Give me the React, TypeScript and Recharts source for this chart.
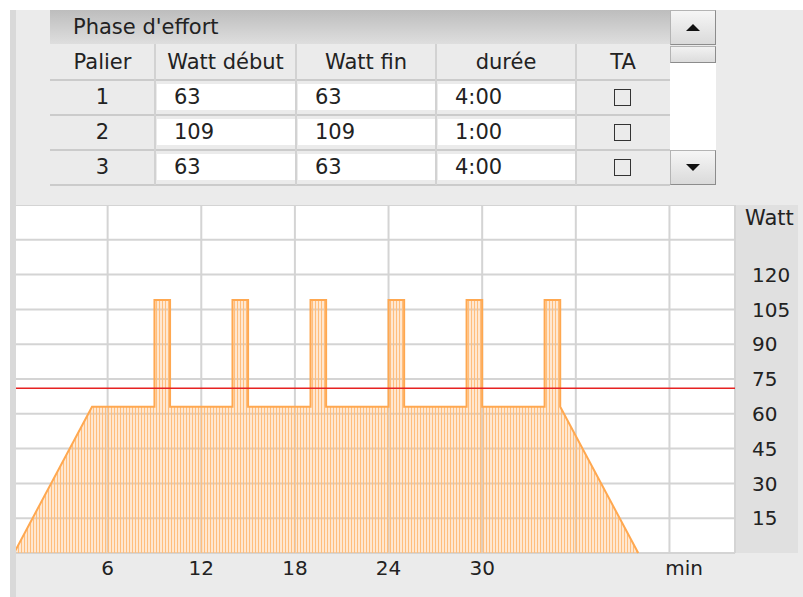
import React from "react";
import { Area, CartesianGrid, ComposedChart, Line, XAxis, YAxis } from "recharts";

const FONT = '"DejaVu Sans", Verdana, sans-serif';

// profil de l'effort (minutes / watts)
const times = [0, 5, 9, 9, 10, 10, 14, 14, 15, 15, 19, 19, 20, 20, 24, 24, 25, 25, 29, 29, 30, 30, 34, 34, 35, 35, 40];
const watts = [0, 63, 63, 109, 109, 63, 63, 109, 109, 63, 63, 109, 109, 63, 63, 109, 109, 63, 63, 109, 109, 63, 63, 109, 109, 63, 0];

const targetWatt = 71;
const xTicks = [6, 12, 18, 24, 30, 36, 42];
const xLabels = [6, 12, 18, 24, 30];
const yTicks = [15, 30, 45, 60, 75, 90, 105, 120, 135];
const yLabels = [15, 30, 45, 60, 75, 90, 105, 120];

// tableau des paliers
const columns = ["Palier", "Watt début", "Watt fin", "durée", "TA"];
const paliers = [1, 2, 3];
const wattStart = [63, 109, 63];
const wattEnd = [63, 109, 63];
const durations = ["4:00", "1:00", "4:00"];

const profile = times.map((t, i) => ({ t, w: watts[i] }));
const redLine = [
  { t: 0, w: targetWatt },
  { t: 46.2, w: targetWatt }
];

const colEdges = [50, 155, 296, 436, 576, 670];

function Cell({ x, w, top, children }: { x: number; w: number; top: number; children: React.ReactNode }) {
  return (
    <div
      style={{
        position: "absolute",
        left: x + 2,
        top: top + 4,
        width: w - 3,
        height: 26,
        background: "#fff",
        lineHeight: "26px",
        paddingLeft: 17,
        boxSizing: "border-box"
      }}
    >
      {children}
    </div>
  );
}

function ScrollButton({ top, up }: { top: number; up: boolean }) {
  return (
    <div
      style={{
        position: "absolute",
        left: 670,
        top,
        width: 46,
        height: 35,
        boxSizing: "border-box",
        background: "linear-gradient(#f6f6f6, #dadada)",
        border: "1px solid #b4b4b4",
        borderRightColor: "#8c8c8c",
        borderBottomColor: "#8c8c8c"
      }}
    >
      <div
        style={{
          position: "absolute",
          left: 15,
          top: 13,
          width: 0,
          height: 0,
          borderLeft: "7px solid transparent",
          borderRight: "7px solid transparent",
          ...(up ? { borderBottom: "7px solid #111" } : { borderTop: "7px solid #111" })
        }}
      />
    </div>
  );
}

function EffortTable() {
  return (
    <>
      <div
        style={{
          position: "absolute",
          left: 50,
          top: 10,
          width: 620,
          height: 34,
          background: "linear-gradient(#bdbdbd, #dedede)",
          lineHeight: "34px",
          paddingLeft: 23,
          boxSizing: "border-box"
        }}
      >
        Phase d'effort
      </div>
      {columns.map((c, i) => (
        <div
          key={c}
          style={{
            position: "absolute",
            left: colEdges[i],
            top: 44,
            width: colEdges[i + 1] - colEdges[i],
            height: 36,
            lineHeight: "36px",
            textAlign: "center"
          }}
        >
          {c}
        </div>
      ))}
      {paliers.map((p, r) => {
        const top = 80 + r * 35;
        return (
          <React.Fragment key={p}>
            <div
              style={{
                position: "absolute",
                left: colEdges[0],
                top,
                width: colEdges[1] - colEdges[0],
                height: 35,
                lineHeight: "35px",
                textAlign: "center"
              }}
            >
              {p}
            </div>
            <Cell x={colEdges[1]} w={colEdges[2] - colEdges[1]} top={top}>
              {wattStart[r]}
            </Cell>
            <Cell x={colEdges[2]} w={colEdges[3] - colEdges[2]} top={top}>
              {wattEnd[r]}
            </Cell>
            <Cell x={colEdges[3]} w={colEdges[4] - colEdges[3]} top={top}>
              {durations[r]}
            </Cell>
            <div
              style={{
                position: "absolute",
                left: 614,
                top: top + 9,
                width: 17,
                height: 17,
                boxSizing: "border-box",
                border: "1.5px solid #333"
              }}
            />
          </React.Fragment>
        );
      })}
      {[79, 114, 149, 184].map((y) => (
        <div key={y} style={{ position: "absolute", left: 50, top: y, width: 620, height: 2, background: "#cbcbcb" }} />
      ))}
      {colEdges.slice(1, 5).map((x) => (
        <div key={x} style={{ position: "absolute", left: x - 1, top: 44, width: 2, height: 141, background: "#d2d2d2" }} />
      ))}
      <ScrollButton top={10} up />
      <div
        style={{
          position: "absolute",
          left: 670,
          top: 46,
          width: 46,
          height: 17,
          boxSizing: "border-box",
          background: "linear-gradient(#f2f2f2, #dcdcdc)",
          border: "1px solid #b4b4b4",
          borderBottomColor: "#8c8c8c",
          borderRightColor: "#8c8c8c"
        }}
      />
      <div style={{ position: "absolute", left: 670, top: 63, width: 46, height: 87, background: "#fff" }} />
      <ScrollButton top={150} up={false} />
    </>
  );
}

const tickStyle = { fontSize: 20, fill: "#222", fontFamily: FONT };

export default function App() {
  return (
    <div
      style={{
        position: "absolute",
        left: 0,
        top: 0,
        width: 803,
        height: 597,
        overflow: "hidden",
        background: "#fff",
        fontFamily: FONT,
        fontSize: 21,
        color: "#222"
      }}
    >
      <div style={{ position: "absolute", left: 10, top: 10, width: 793, height: 587, background: "#ebebeb" }} />
      <div style={{ position: "absolute", left: 10, top: 10, width: 6, height: 587, background: "#d9d9d9", zIndex: 3 }} />

      <EffortTable />

      <div style={{ position: "absolute", left: 735, top: 205, width: 63, height: 348, background: "#e0e0e0" }} />
      <div style={{ position: "absolute", left: 14, top: 205 }}>
        <ComposedChart width={784} height={378} margin={{ top: 0, right: 0, bottom: 0, left: 0 }}>
          <defs>
            <pattern id="stripes" patternUnits="userSpaceOnUse" width="3" height="10">
              <rect x="0" y="0" width="3" height="10" fill="#ffa64d" fillOpacity="0.15" />
              <line x1="1.5" y1="0" x2="1.5" y2="10" stroke="#ffbe7d" strokeWidth="1.4" />
            </pattern>
          </defs>
          <CartesianGrid stroke="#d4d4d4" strokeWidth={2} fill="#fff" fillOpacity={1} />
          <XAxis
            type="number"
            dataKey="t"
            domain={[0, 46.2]}
            ticks={xTicks}
            tickFormatter={(v: number) => (xLabels.includes(v) ? String(v) : "")}
            tickSize={0}
            tickMargin={8}
            axisLine={false}
            height={30}
            tick={tickStyle}
            allowDataOverflow
            label={{ value: "min", position: "insideRight", offset: 32, fontSize: 20, fill: "#222", fontFamily: FONT }}
          />
          <YAxis
            orientation="right"
            type="number"
            domain={[0, 150]}
            ticks={yTicks}
            tickFormatter={(v: number) => (yLabels.includes(v) ? String(v) : "")}
            tickSize={0}
            tickMargin={17}
            axisLine={false}
            width={63}
            tick={tickStyle}
          />
          <Line
            data={redLine}
            dataKey="w"
            type="linear"
            stroke="#e62222"
            strokeWidth={1.5}
            dot={false}
            activeDot={false}
            isAnimationActive={false}
          />
          <Area
            data={profile}
            dataKey="w"
            type="linear"
            stroke="#ffa850"
            strokeWidth={2}
            fill="url(#stripes)"
            fillOpacity={1}
            dot={false}
            activeDot={false}
            isAnimationActive={false}
          />
        </ComposedChart>
      </div>
      <div style={{ position: "absolute", left: 745, top: 205, lineHeight: "26px" }}>Watt</div>
    </div>
  );
}
